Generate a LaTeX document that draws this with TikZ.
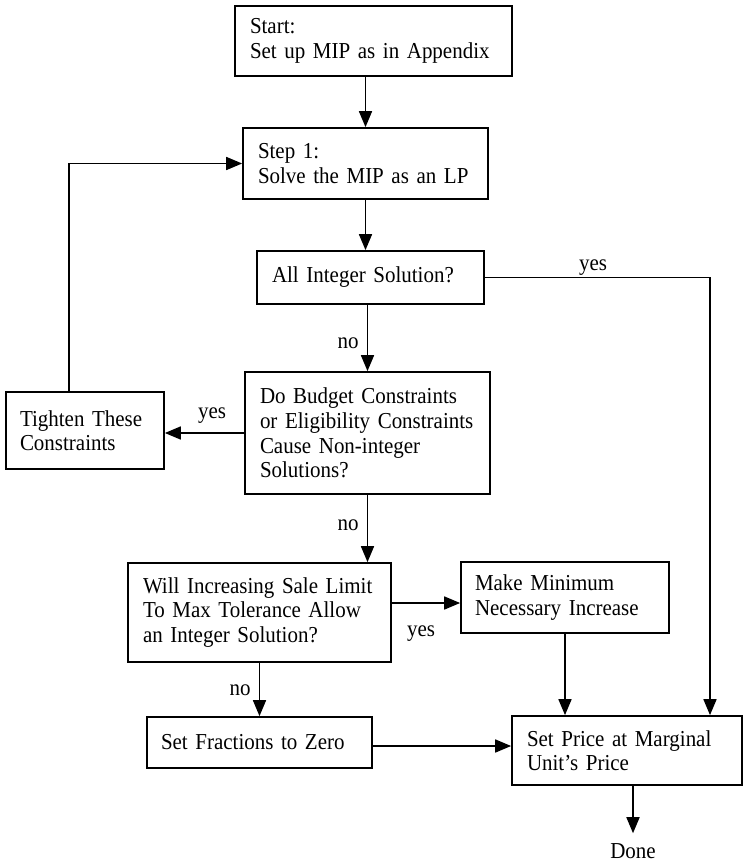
\documentclass[tikz,border=0pt]{standalone}
\usepackage{fontspec}
\setmainfont{Liberation Serif}[FakeStretch=0.92]
\usetikzlibrary{arrows.meta,calc}
\begin{document}
\begin{tikzpicture}[x=1pt,y=-1pt,
  box/.style={draw, line width=1.7pt, rectangle, align=left, inner xsep=15pt, inner ysep=0pt,
              font=\fontsize{22.8}{24.6}\selectfont},
  lbl/.style={font=\fontsize{22.8}{24.6}\selectfont, inner sep=0pt},
  arr/.style={line width=1.7pt, -{Triangle[length=16pt,width=13pt]}}]
\useasboundingbox[fill=white] (0,0) rectangle (750,866);

\node[box, text width=247pt, minimum height=70pt] (start) at (373.5,41) {Start:\\Set up MIP as in Appendix};
\node[box, text width=215pt, minimum height=71pt] (step1) at (365.5,163.5) {Step 1:\\Solve the MIP as an LP};
\node[box, text width=197pt, minimum height=53pt] (allint) at (370.5,277.5) {All Integer Solution?};
\node[box, text width=215pt, minimum height=122pt] (budget) at (367.5,433) {Do Budget Constraints\\or Eligibility Constraints\\Cause Non-integer\\Solutions?};
\node[box, inner xsep=14pt, text width=130pt, minimum height=77pt] (tighten) at (85,430.5) {Tighten These\\Constraints};
\node[box, text width=233pt, minimum height=99pt] (will) at (259.5,612.5) {Will Increasing Sale Limit\\To Max Tolerance Allow\\an Integer Solution?};
\node[box, inner xsep=14pt, text width=180pt, minimum height=71pt] (makemin) at (565,597.5) {Make Minimum\\Necessary Increase};
\node[box, inner xsep=14pt, text width=197pt, minimum height=51pt] (setfrac) at (259.5,742.5) {Set Fractions to Zero\\[-3pt]};
\node[box, text width=200pt, minimum height=69pt] (setprice) at (627,750.5) {Set Price at Marginal\\Unit’s Price};
\node[lbl] (done) at (633,851) {Done};

\node[lbl] (yes1) at (593,268) {yes};
\node[lbl] (no1) at (348,343) {no};
\node[lbl] (yes2) at (212,416) {yes};
\node[lbl] (no2) at (348,525) {no};
\node[lbl] (yes3) at (421,634) {yes};
\node[lbl] (no3) at (240,690) {no};

\coordinate (yr) at (710,0);
\coordinate (tl) at ($(tighten.north)+(-16,0)$);
\coordinate (wy) at ($(will.east)+(0,-9.5)$);
\coordinate (fy) at ($(setfrac.east)+(0,3.5)$);

\draw[arr] (start.south -| step1.north) -- (step1.north);
\draw[arr] (step1.south) -- (step1.south |- allint.north);
\draw[arr] (allint.south -| budget.north) -- (budget.north);
\draw[arr] (allint.east) -| (yr |- setprice.north);
\draw[arr] (budget.west) -- (budget.west -| tighten.east);
\draw[arr] (tl) |- (step1.west);
\draw[arr] (budget.south) -- (budget.south |- will.north);
\draw[arr] (wy) -- (wy -| makemin.west);
\draw[arr] (makemin.south) -- (makemin.south |- setprice.north);
\draw[arr] (will.south) -- (setfrac.north);
\draw[arr] (fy) -- (fy -| setprice.west);
\draw[arr] (done.north |- setprice.south) -- ([yshift=10pt]done.north);
\end{tikzpicture}
\end{document}
